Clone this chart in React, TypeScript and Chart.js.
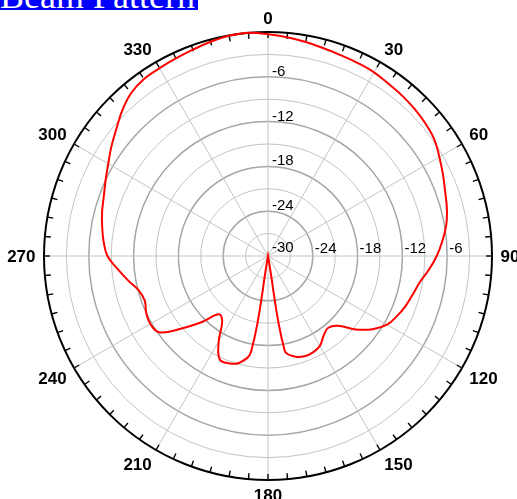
import React, { useEffect, useRef } from 'react';
import { Chart, registerables } from 'chart.js';

Chart.register(...registerables);

// Angles (degrees, clockwise from top) at which the pattern is sampled
const angles: number[] = [
  0, 5, 10, 15, 20, 25, 30, 35, 40, 45, 50, 55,
  60, 65, 70, 75, 80, 85, 90, 95, 100, 105, 110, 115,
  120, 125, 130, 135, 140, 145, 150, 155, 160, 165, 170, 175,
  180, 185, 190, 195, 200, 205, 210, 215, 220, 225, 230, 235,
  240, 245, 250, 255, 260, 265, 270, 275, 280, 285, 290, 295,
  300, 305, 310, 315, 320, 325, 330, 335, 340, 345, 350, 355,
];

// Normalised gain (dB) at each angle
const gainDb: number[] = [
  -0.3, -0.6, -0.9, -1.2, -1.4, -1.5, -1.6, -1.85, -2.0, -2.2, -2.45, -2.8,
  -3.5, -4.15, -4.75, -5.2, -5.75, -6.55, -7.4, -8.4, -9.4, -9.95, -10.4, -10.95,
  -11.6, -12.9, -14.7, -16.8, -17.45, -17.0, -16.1, -15.75, -15.7, -16.05, -17.1, -30,
  -30, -30, -17.0, -15.2, -14.7, -14.7, -16.8, -19.3, -19.8, -17.5, -14.9, -12.2,
  -11.8, -12.0, -12.45, -12.1, -11.0, -9.8, -8.5, -7.9, -7.45, -7.0, -6.6, -6.0,
  -5.3, -4.4, -3.5, -2.4, -1.5, -1.05, -0.95, -0.8, -0.6, -0.3, -0.05, 0,
];

// Radial axis
const radialMin = -30;
const radialMax = 0;
const radialStep = 3;
const radialLabelValues: number[] = [-30, -24, -18, -12, -6];

// Angular axis labels
const angleLabelValues: number[] = [0, 30, 60, 90, 120, 150, 180, 210, 240, 270, 300, 330];
const outerTickStepDeg = 5;

const polarDecor = {
  id: 'polarDecor',
  beforeDatasetsDraw(chart: any) {
    const s = chart.scales.r;
    const ctx = chart.ctx as CanvasRenderingContext2D;
    const cx = s.xCenter;
    const cy = s.yCenter;
    const R = s.drawingArea;
    ctx.save();

    // outer ticks
    ctx.strokeStyle = '#000';
    ctx.lineWidth = 1.4;
    for (let a = 0; a < 360; a += outerTickStepDeg) {
      const t = (a * Math.PI) / 180;
      const dx = Math.sin(t);
      const dy = -Math.cos(t);
      ctx.beginPath();
      ctx.moveTo(cx + dx * R, cy + dy * R);
      ctx.lineTo(cx + dx * (R - 6), cy + dy * (R - 6));
      ctx.stroke();
    }

    // radial tick labels (up the 0° spoke and along the 90° spoke)
    ctx.font = '15px "Liberation Sans", Arial, sans-serif';
    ctx.fillStyle = '#000';
    ctx.textAlign = 'left';
    ctx.textBaseline = 'alphabetic';
    radialLabelValues.forEach((v) => {
      const d = s.getDistanceFromCenterForValue(v);
      const txt = String(v);
      if (v === radialMin) {
        ctx.fillText(txt, cx + 4, cy - 4);
        return;
      }
      ctx.fillText(txt, cx + 4, cy - d - 1);
      ctx.fillText(txt, cx + d + 2, cy - 3);
    });

    // angular labels
    const fs = 17;
    ctx.font = `bold ${fs}px "Liberation Sans", Arial, sans-serif`;
    const capH = fs * 0.72;
    angleLabelValues.forEach((a) => {
      const t = (a * Math.PI) / 180;
      const dist = R + 8.5;
      const px = cx + Math.sin(t) * dist;
      const py = cy - Math.cos(t) * dist;
      const txt = String(a);
      if (a === 0 || a === 180) ctx.textAlign = 'center';
      else if (a < 180) ctx.textAlign = 'left';
      else ctx.textAlign = 'right';
      let baseY: number;
      if (a === 90 || a === 270) baseY = py + capH / 2;
      else if (a < 90 || a > 270) baseY = py;
      else baseY = py + capH;
      ctx.fillText(txt, px, baseY);
    });

    ctx.restore();
  },
};

export default function App() {
  const canvasRef = useRef<HTMLCanvasElement | null>(null);

  useEffect(() => {
    if (!canvasRef.current) return;
    const chart = new Chart(canvasRef.current, {
      type: 'radar',
      data: {
        labels: angles.map((a) => String(a)),
        datasets: [
          {
            label: 'Beam Pattern',
            data: gainDb,
            borderColor: '#ff0000',
            borderWidth: 2,
            backgroundColor: 'rgba(0,0,0,0)',
            fill: false,
            pointRadius: 0,
            pointHoverRadius: 0,
            tension: 0.4,
          },
        ],
      },
      options: {
        responsive: false,
        animation: false,
        layout: { padding: { left: 44, top: 32, right: 25, bottom: 19 } },
        plugins: {
          legend: { display: false },
          tooltip: { enabled: false },
          title: { display: false },
        },
        scales: {
          r: {
            min: radialMin,
            max: radialMax,
            startAngle: 0,
            ticks: { display: false, stepSize: radialStep },
            pointLabels: { display: false },
            grid: {
              circular: true,
              color: (ctx: any) => {
                const v = ctx.tick ? ctx.tick.value : 0;
                if (v === radialMax) return '#000000';
                if (Math.abs(v % 6) < 1e-9) return '#a6a6a6';
                return '#c4c4c4';
              },
              lineWidth: (ctx: any) => {
                const v = ctx.tick ? ctx.tick.value : 0;
                if (v === radialMax) return 2;
                if (Math.abs(v % 6) < 1e-9) return 1.5;
                return 1;
              },
            },
            angleLines: {
              display: true,
              color: '#c4c4c4',
              lineWidth: (ctx: any) => ((ctx.index * 5) % 30 === 0 ? 1 : 0),
            },
          },
        },
      },
      plugins: [polarDecor],
    });
    return () => chart.destroy();
  }, []);

  return (
    <div style={{ position: 'absolute', left: 0, top: 0, width: 517, height: 499, background: '#fff' }}>
      <canvas ref={canvasRef} width={517} height={499} style={{ position: 'absolute', left: 0, top: 0, display: 'block' }} />
      <div
        style={{
          position: 'absolute',
          left: 0,
          top: 0,
          width: 198,
          height: 10,
          overflow: 'hidden',
          background: '#0000ff',
        }}
      >
        <div
          style={{
            position: 'absolute',
            left: 0,
            top: -22,
            font: '36px "Liberation Serif", "Times New Roman", serif',
            lineHeight: '36px',
            color: '#ffffff',
            whiteSpace: 'nowrap',
          }}
        >
          Beam Pattern
        </div>
      </div>
    </div>
  );
}
